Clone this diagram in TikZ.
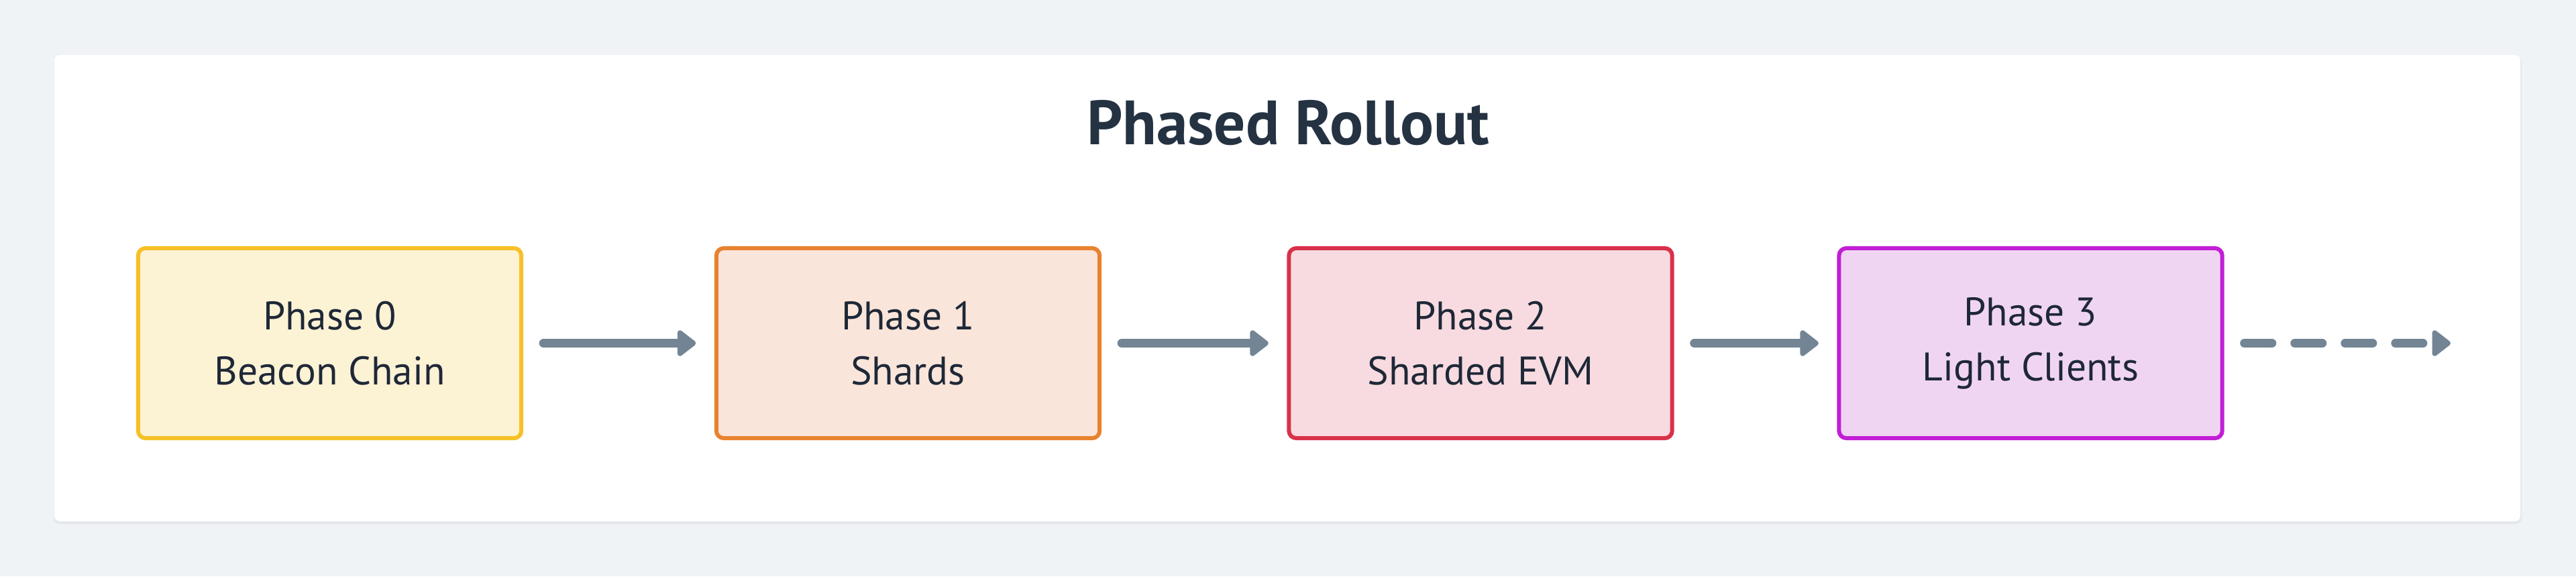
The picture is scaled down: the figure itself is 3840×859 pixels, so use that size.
\documentclass[tikz,border=0pt]{standalone}
\usepackage{fontspec}
\setmainfont{PT Sans}
\usetikzlibrary{positioning,arrows.meta}
\definecolor{prbg}{RGB}{240,243,246}
\definecolor{prshadow}{RGB}{228,232,236}
\definecolor{prtitle}{RGB}{36,50,66}
\definecolor{prtext}{RGB}{30,40,55}
\definecolor{prarrow}{RGB}{115,133,149}
\definecolor{pryellow}{RGB}{246,192,38}
\definecolor{pryellowfill}{RGB}{252,242,212}
\definecolor{prorange}{RGB}{232,130,47}
\definecolor{prorangefill}{RGB}{250,229,219}
\definecolor{prred}{RGB}{217,49,74}
\definecolor{prredfill}{RGB}{247,219,224}
\definecolor{prpurple}{RGB}{194,30,214}
\definecolor{prpurplefill}{RGB}{240,213,243}

\begin{document}
\begin{tikzpicture}[x=0.01cm,y=-0.01cm,
    phase/.style={draw=#1,fill=#1fill,line width=0.6mm,rounded corners=1.1mm,
      minimum width=5.71cm,minimum height=2.83cm,align=center,text=prtext,
      font=\fontsize{16.9}{23.4}\selectfont},
    flow/.style={draw=prarrow,line width=1.3mm,line cap=round,
      -{Triangle[length=3mm,width=4.4mm,round]},shorten <=3mm,shorten >=2.75mm}]
  \useasboundingbox[fill=prbg] (0,0) rectangle (3840,859);
  % card
  \fill[prshadow,rounded corners=0.8mm] (80,85) rectangle (3759,781);
  \fill[white,rounded corners=0.8mm] (81,82) rectangle (3757,777);
  \node[anchor=base,text=prtitle,font=\fontsize{26.5}{30}\selectfont\bfseries]
    (title) at (1920,215) {Phased Rollout};
  % phases
  \foreach \i/\x/\col/\top/\sub in {0/491.5/pryellow/Phase 0/Beacon Chain,
      1/1353.5/prorange/Phase 1/Shards, 2/2207/prred/Phase 2/Sharded EVM,
      3/3027/prpurple/Phase 3/Light Clients}
    {\node[phase=\col] (p\i) at (\x,511.5) {\top\\\sub};}
  \draw[flow] (p0) -- (p1);
  \draw[flow] (p1) -- (p2);
  \draw[flow] (p2) -- (p3);
  \coordinate (next) at (3653,511.5);
  \draw[flow,dash pattern=on 4.1mm off 3.4mm,shorten >=0pt] (p3) -- (next);
\end{tikzpicture}
\end{document}
